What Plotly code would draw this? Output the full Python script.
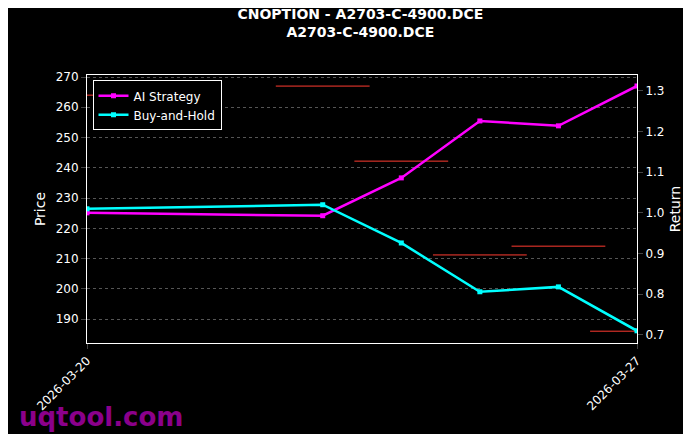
import plotly.graph_objects as go

dates = ["2026-03-20", "2026-03-23", "2026-03-24", "2026-03-25", "2026-03-26", "2026-03-27"]
ai_strategy = [1.000, 0.993, 1.086, 1.226, 1.214, 1.312]
buy_hold = [1.010, 1.020, 0.926, 0.806, 0.818, 0.710]
price = [264.0, 267.0, 242.2, 211.2, 214.1, 186.0]

fig = go.Figure()
fig.add_trace(go.Scatter(x=dates, y=price, mode="markers", showlegend=False, yaxis="y",
                         marker=dict(symbol="line-ew-open", size=67, color="#ff3b30",
                                     line=dict(color="#ff3b30", width=1))))
fig.add_trace(go.Scatter(x=dates, y=ai_strategy, mode="lines+markers", name="AI Strategy", yaxis="y2",
                         line=dict(color="#ff00ff", width=2.5), marker=dict(size=5, symbol="square")))
fig.add_trace(go.Scatter(x=dates, y=buy_hold, mode="lines+markers", name="Buy-and-Hold", yaxis="y2",
                         line=dict(color="#00ffff", width=2.5), marker=dict(size=5, symbol="square")))

fig.update_layout(
    width=691, height=434, paper_bgcolor="black", plot_bgcolor="black",
    margin=dict(l=79, r=62, t=67, b=99, autoexpand=False),
    font=dict(family="DejaVu Sans", color="white", size=12),
    title=dict(text="<b>CNOPTION - A2703-C-4900.DCE<br>A2703-C-4900.DCE</b>", x=0.51, y=0.975,
               xanchor="center", yanchor="top", font=dict(size=14)),
    xaxis=dict(range=["2026-03-20", "2026-03-27"], tickvals=["2026-03-20", "2026-03-27"],
               ticktext=["2026-03-20", "2026-03-27"], tickangle=-45, showgrid=False, automargin=False,
               showline=True, linecolor="white", mirror=True, ticks="outside", zeroline=False),
    yaxis=dict(title=dict(text="Price", standoff=6), range=[182.1, 270.66], dtick=10, showgrid=True,
               gridcolor="#555", griddash="dot", gridwidth=0.5, automargin=False,
               showline=True, linecolor="white", ticks="outside", zeroline=False),
    yaxis2=dict(title=dict(text="Return", standoff=6), overlaying="y", side="right", range=[0.680, 1.339],
                dtick=0.1, automargin=False,
                tickformat=".1f", showgrid=False, showline=True, linecolor="white", ticks="outside", zeroline=False),
    legend=dict(x=0.01, y=0.98, xanchor="left", yanchor="top", bgcolor="black",
                bordercolor="white", borderwidth=1, font=dict(size=12)),
)
fig.add_annotation(text="<b>uqtool.com</b>", xref="paper", yref="paper", x=-0.128, y=-0.276,
                   xanchor="left", yanchor="middle", showarrow=False,
                   font=dict(size=26, color="#8b008b"))
fig.write_html("out.html")
